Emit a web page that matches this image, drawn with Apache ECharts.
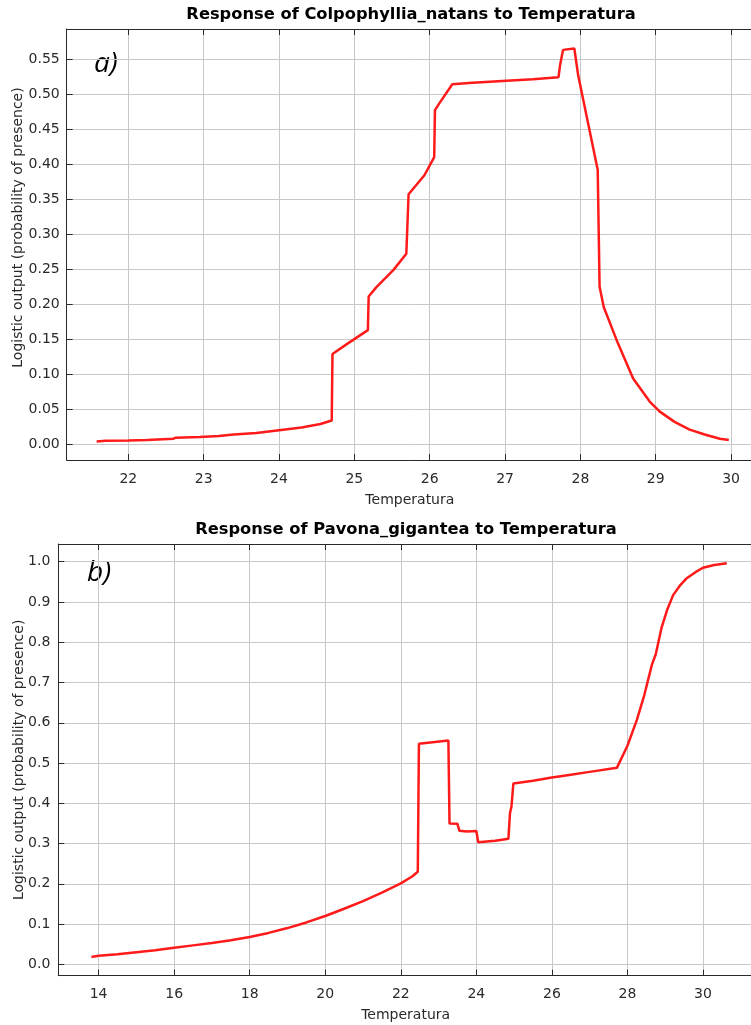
<!DOCTYPE html>
<html><head><meta charset="utf-8">
<script src="https://cdn.jsdelivr.net/npm/echarts@6/dist/echarts.min.js"></script>
<style>html,body{margin:0;padding:0;background:#fff}#c{width:751px;height:1025px}</style>
</head><body><div id="c"></div>
<script>
const titleA = 'Response of Colpophyllia_natans to Temperatura';
const titleB = 'Response of Pavona_gigantea to Temperatura';
const xName = 'Temperatura';
const yName = 'Logistic output (probability of presence)';
const panelA = 'a)';
const panelB = 'b)';

// Panel a) Colpophyllia natans
const tempA = [21.58, 21.70, 22.00, 22.25, 22.27, 22.60, 22.63, 22.95, 23.20, 23.40, 23.70, 24.00, 24.30, 24.55, 24.70,
  24.71, 24.90, 25.18, 25.19, 25.29, 25.52, 25.69, 25.72, 25.93, 26.06, 26.07, 26.13, 26.30, 26.57, 27.02, 27.37, 27.71,
  27.73, 27.77, 27.92, 27.97, 28.23, 28.255, 28.31, 28.48, 28.70, 28.92, 29.05, 29.25, 29.45, 29.65, 29.85, 29.97];
const probA = [0.004, 0.005, 0.0055, 0.006, 0.0075, 0.008, 0.0095, 0.0105, 0.012, 0.014, 0.016, 0.020, 0.024, 0.029, 0.034,
  0.129, 0.143, 0.163, 0.211, 0.224, 0.249, 0.272, 0.357, 0.384, 0.410, 0.477, 0.487, 0.514, 0.516, 0.519, 0.521, 0.524,
  0.541, 0.563, 0.565, 0.527, 0.392, 0.225, 0.196, 0.149, 0.094, 0.061, 0.047, 0.032, 0.021, 0.014, 0.008, 0.006];

// Panel b) Pavona gigantea
const tempB = [13.81, 14.0, 14.5, 15.0, 15.5, 16.0, 16.5, 17.0, 17.5, 18.0, 18.5, 19.0, 19.5, 20.0, 20.5, 21.0, 21.5, 22.0,
  22.3, 22.45, 22.48, 22.9, 23.26, 23.29, 23.50, 23.55, 23.75, 24.00, 24.05, 24.50, 24.85, 24.89, 24.93, 24.98, 25.5, 26.0,
  26.5, 27.0, 27.72, 28.0, 28.25, 28.45, 28.65, 28.75, 28.9, 29.05, 29.21, 29.4, 29.57, 29.8, 30.0, 30.3, 30.63];
const probB = [0.018, 0.021, 0.025, 0.030, 0.035, 0.041, 0.047, 0.053, 0.060, 0.068, 0.078, 0.090, 0.104, 0.120, 0.138, 0.157, 0.178, 0.201,
  0.218, 0.230, 0.548, 0.552, 0.556, 0.350, 0.349, 0.332, 0.330, 0.331, 0.303, 0.307, 0.312, 0.375, 0.392, 0.449, 0.456, 0.464,
  0.471, 0.478, 0.488, 0.543, 0.607, 0.670, 0.745, 0.770, 0.835, 0.880, 0.917, 0.942, 0.959, 0.974, 0.985, 0.992, 0.996];

// axis extents (visible window of each plot)
const xRangeA = [21.1825, 30.291];
const yRangeA = [-0.0224, 0.5928];
const xRangeB = [12.933, 31.324];
const yRangeB = [-0.0283, 1.044];

const FONT = 'DejaVu Sans';
const axisCol = '#2a2a2a';
const gridCol = '#c8c8c8';

function xAx(gridIndex, range, split, pos, nameGap) {
  const top = pos === 'top';
  return {
    type: 'value', gridIndex, position: pos, min: range[0], max: range[1], splitNumber: split,
    name: top ? '' : xName, nameLocation: 'middle', nameGap, nameMoveOverlap: false,
    nameTextStyle: {fontFamily: FONT, fontSize: 14, color: axisCol},
    axisLine: {show: true, onZero: false, lineStyle: {color: axisCol, width: 1}},
    axisTick: {show: true, inside: true, length: 6, lineStyle: {color: axisCol}},
    axisLabel: {show: !top, fontFamily: FONT, fontSize: 14, color: axisCol, margin: 12,
      showMinLabel: false, showMaxLabel: false, formatter: v => String(Math.round(v))},
    splitLine: {show: !top, lineStyle: {color: gridCol, width: 1}}
  };
}
function yAx(gridIndex, range, split, digits, nameGap, pad, margin) {
  return {
    type: 'value', gridIndex, min: range[0], max: range[1], splitNumber: split,
    name: yName, nameLocation: 'middle', nameGap, nameRotate: 90, nameMoveOverlap: false,
    nameTextStyle: {fontFamily: FONT, fontSize: 14, color: axisCol, padding: pad},
    axisLine: {show: true, onZero: false, lineStyle: {color: axisCol, width: 1}},
    axisTick: {show: true, inside: true, length: 6, lineStyle: {color: axisCol}},
    axisLabel: {fontFamily: FONT, fontSize: 14, color: axisCol, margin,
      showMinLabel: false, showMaxLabel: false, formatter: v => v.toFixed(digits)},
    splitLine: {show: true, lineStyle: {color: gridCol, width: 1}}
  };
}
function pairs(xs, ys) { return xs.map((x, i) => [x, ys[i]]); }

const chart = echarts.init(document.getElementById('c'), null, {renderer: 'canvas'});
chart.setOption({
  backgroundColor: '#fff',
  animation: false,
  title: [
    {text: titleA, left: 411, top: 7, textAlign: 'center', padding: 0,
      textStyle: {fontFamily: FONT, fontWeight: 'bold', fontSize: 16.3, color: '#000'}},
    {text: titleB, left: 406, top: 522, textAlign: 'center', padding: 0,
      textStyle: {fontFamily: FONT, fontWeight: 'bold', fontSize: 16.3, color: '#000'}}
  ],
  graphic: [
    {type: 'text', left: 94, top: 50, style: {text: panelA, fontFamily: 'Open Sans', fontStyle: 'italic', fontSize: 28, fill: '#000'}},
    {type: 'text', left: 87, top: 559, style: {text: panelB, fontFamily: 'Open Sans', fontStyle: 'italic', fontSize: 28, fill: '#000'}}
  ],
  grid: [
    {left: 66.7, top: 29, right: -2, height: 431, containLabel: false, outerBoundsMode: 'none'},
    {left: 58.3, top: 544, right: -2, height: 431.7, containLabel: false, outerBoundsMode: 'none'}
  ],
  xAxis: [
    xAx(0, xRangeA, 9, 'bottom', 33),
    xAx(0, xRangeA, 9, 'top', 0),
    xAx(1, xRangeB, 9, 'bottom', 33),
    xAx(1, xRangeB, 9, 'top', 0)
  ],
  yAxis: [
    yAx(0, yRangeA, 12, 2, 41, [0, 0, 0, 34], 7),
    yAx(1, yRangeB, 10, 1, 32, [0, 0, 0, 0], 8)
  ],
  series: [
    {type: 'line', xAxisIndex: 0, yAxisIndex: 0, data: pairs(tempA, probA), showSymbol: false, symbol: 'none',
      lineStyle: {color: '#ff1a1a', width: 2.5}, itemStyle: {color: '#ff1a1a'}, clip: true},
    {type: 'line', xAxisIndex: 2, yAxisIndex: 1, data: pairs(tempB, probB), showSymbol: false, symbol: 'none',
      lineStyle: {color: '#ff1a1a', width: 2.5}, itemStyle: {color: '#ff1a1a'}, clip: true}
  ]
});
</script></body></html>
